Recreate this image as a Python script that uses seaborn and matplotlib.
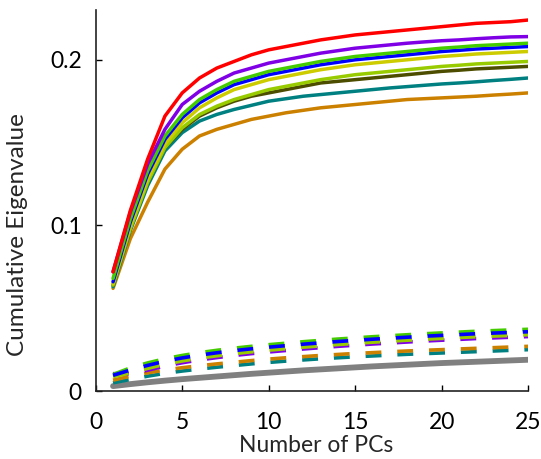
import numpy as np
import pandas as pd
import matplotlib
matplotlib.use('Agg')
import matplotlib.pyplot as plt
import seaborn as sb

# Number of PCs on the x axis
pcs = list(range(1, 26))

# Cumulative eigenvalues, real data (solid lines)
red = [0.072, 0.109, 0.140, 0.166, 0.180, 0.189, 0.195, 0.199, 0.203, 0.206, 0.208, 0.210, 0.212,
       0.2135, 0.215, 0.216, 0.217, 0.218, 0.219, 0.220, 0.221, 0.222, 0.2225, 0.223, 0.224]
purple = [0.072, 0.108, 0.137, 0.158, 0.173, 0.181, 0.187, 0.192, 0.195, 0.198, 0.200, 0.202, 0.204,
          0.2055, 0.207, 0.208, 0.209, 0.210, 0.2108, 0.2115, 0.212, 0.2127, 0.2133, 0.2138, 0.214]
green = [0.068, 0.104, 0.133, 0.154, 0.167, 0.176, 0.182, 0.187, 0.190, 0.193, 0.195, 0.197, 0.199,
         0.2005, 0.202, 0.203, 0.204, 0.205, 0.206, 0.207, 0.2077, 0.2085, 0.209, 0.2095, 0.210]
blue = [0.066, 0.102, 0.131, 0.152, 0.165, 0.174, 0.180, 0.185, 0.188, 0.191, 0.193, 0.195, 0.197,
        0.1985, 0.200, 0.201, 0.202, 0.203, 0.204, 0.205, 0.2057, 0.2065, 0.207, 0.2075, 0.208]
yellow = [0.065, 0.100, 0.128, 0.149, 0.162, 0.171, 0.177, 0.182, 0.185, 0.188, 0.190, 0.192, 0.194,
          0.1955, 0.197, 0.198, 0.199, 0.200, 0.201, 0.202, 0.2027, 0.2035, 0.204, 0.2045, 0.205]
yellowgreen = [0.064, 0.098, 0.126, 0.147, 0.159, 0.167, 0.172, 0.176, 0.179, 0.182, 0.184, 0.186, 0.188,
               0.1895, 0.191, 0.192, 0.193, 0.194, 0.195, 0.196, 0.1967, 0.1975, 0.198, 0.1985, 0.199]
darkolive = [0.064, 0.098, 0.126, 0.147, 0.158, 0.166, 0.171, 0.175, 0.178, 0.180, 0.182, 0.184, 0.186,
             0.187, 0.188, 0.189, 0.190, 0.191, 0.192, 0.193, 0.1937, 0.1945, 0.195, 0.1955, 0.196]
teal = [0.063, 0.097, 0.124, 0.145, 0.156, 0.163, 0.167, 0.170, 0.1725, 0.175, 0.1765, 0.178, 0.179,
        0.180, 0.181, 0.182, 0.183, 0.1838, 0.1846, 0.1854, 0.186, 0.1867, 0.1875, 0.1882, 0.189]
orange = [0.062, 0.092, 0.114, 0.134, 0.146, 0.154, 0.158, 0.161, 0.164, 0.166, 0.168, 0.1695, 0.171,
          0.172, 0.173, 0.174, 0.175, 0.176, 0.1765, 0.177, 0.1775, 0.178, 0.1787, 0.1793, 0.180]

# Null / shuffled eigenvalues (dashed lines)
green_null = [0.0100, 0.0140, 0.0170, 0.0195, 0.0215, 0.0232, 0.0246, 0.0259, 0.0270, 0.0280, 0.0289,
              0.0298, 0.0306, 0.0314, 0.0321, 0.0328, 0.0334, 0.0340, 0.0346, 0.0351, 0.0356, 0.0361,
              0.0365, 0.0369, 0.0373]
blue_null = [0.0095, 0.0127, 0.0155, 0.0180, 0.0200, 0.0217, 0.0231, 0.0244, 0.0255, 0.0265, 0.0274,
             0.0283, 0.0291, 0.0299, 0.0306, 0.0313, 0.0319, 0.0325, 0.0331, 0.0336, 0.0341, 0.0346,
             0.0350, 0.0354, 0.0358]
yellowgreen_null = [0.0087, 0.0110, 0.0137, 0.0162, 0.0182, 0.0199, 0.0213, 0.0226, 0.0237, 0.0247,
                    0.0256, 0.0265, 0.0273, 0.0281, 0.0288, 0.0295, 0.0301, 0.0307, 0.0313, 0.0318,
                    0.0323, 0.0328, 0.0332, 0.0336, 0.0340]
purple_null = [0.0105, 0.0105, 0.0126, 0.0151, 0.0171, 0.0188, 0.0202, 0.0215, 0.0226, 0.0236, 0.0245,
               0.0254, 0.0262, 0.0270, 0.0277, 0.0284, 0.0290, 0.0296, 0.0302, 0.0307, 0.0312, 0.0317,
               0.0321, 0.0325, 0.0329]
orange_null = [0.0066, 0.0090, 0.0110, 0.0127, 0.0141, 0.0153, 0.0164, 0.0174, 0.0184, 0.0193, 0.0201,
               0.0208, 0.0215, 0.0221, 0.0227, 0.0232, 0.0237, 0.0242, 0.0246, 0.0250, 0.0254, 0.0258,
               0.0262, 0.0266, 0.0270]
teal_null = [0.0050, 0.0070, 0.0090, 0.0107, 0.0121, 0.0133, 0.0144, 0.0154, 0.0164, 0.0173, 0.0181,
             0.0188, 0.0195, 0.0201, 0.0207, 0.0212, 0.0217, 0.0222, 0.0226, 0.0230, 0.0234, 0.0238,
             0.0242, 0.0246, 0.0250]
gray_null = [0.0030, 0.0042, 0.0053, 0.0063, 0.0072, 0.0080, 0.0088, 0.0096, 0.0104, 0.0111, 0.0118,
             0.0125, 0.0131, 0.0137, 0.0143, 0.0149, 0.0154, 0.0159, 0.0164, 0.0169, 0.0173, 0.0177,
             0.0181, 0.0185, 0.0189]

colours = {'red': '#FF0000', 'purple': '#8000E6', 'green': '#44CC00', 'blue': '#0000FF',
           'yellow': '#CCCC00', 'yellowgreen': '#99CC00', 'darkolive': '#4D4D00',
           'teal': '#008080', 'orange': '#CC8000', 'gray': '#808080'}

sb.set_style('ticks')
plt.rcParams['font.family'] = ['Lato', 'DejaVu Sans']

fig = plt.figure(figsize=(5.41, 4.59), dpi=100)
ax = fig.add_axes([0.177, 0.148, 0.799, 0.830])

# Solid lines, drawn bottom to top
solid = [('orange', orange), ('teal', teal), ('darkolive', darkolive), ('yellowgreen', yellowgreen),
         ('yellow', yellow), ('blue', blue), ('green', green), ('purple', purple), ('red', red)]
for name, vals in solid:
    sb.lineplot(x=pcs, y=vals, color=colours[name], linewidth=2.5, ax=ax)

# Gray null line
sb.lineplot(x=pcs, y=gray_null, color=colours['gray'], linewidth=4.2, ax=ax)

# Dashed null lines
dashed = [('teal', teal_null), ('orange', orange_null), ('purple', purple_null),
          ('yellowgreen', yellowgreen_null), ('green', green_null), ('blue', blue_null)]
for name, vals in dashed:
    line = sb.lineplot(x=pcs, y=vals, color=colours[name], linewidth=2.6, ax=ax).lines[-1]
    line.set_dashes((4.4, 4.4))
    line.set_dash_capstyle('butt')

ax.set_xlim(0, 25)
ax.set_ylim(0, 0.23)
ax.set_xticks([0, 5, 10, 15, 20, 25])
ax.set_yticks([0, 0.1, 0.2])
ax.set_yticklabels(['0', '0.1', '0.2'])
ax.tick_params(direction='in', length=4, width=1, labelsize=16.5, colors='black')
ax.tick_params(axis='x', pad=15)
ax.tick_params(axis='y', pad=10)
ax.set_xlabel('Number of PCs', fontsize=16.5)
ax.set_ylabel('Cumulative Eigenvalue', fontsize=17.5)
ax.xaxis.set_label_coords(0.51, -0.142)
ax.yaxis.set_label_coords(-0.182, 0.412)
ax.xaxis.label.set_va('center')
ax.yaxis.label.set_va('center')
sb.despine(ax=ax)
for s in ['left', 'bottom']:
    ax.spines[s].set_linewidth(1.2)
    ax.spines[s].set_color('#222222')

plt.savefig('out.png', dpi=100)
